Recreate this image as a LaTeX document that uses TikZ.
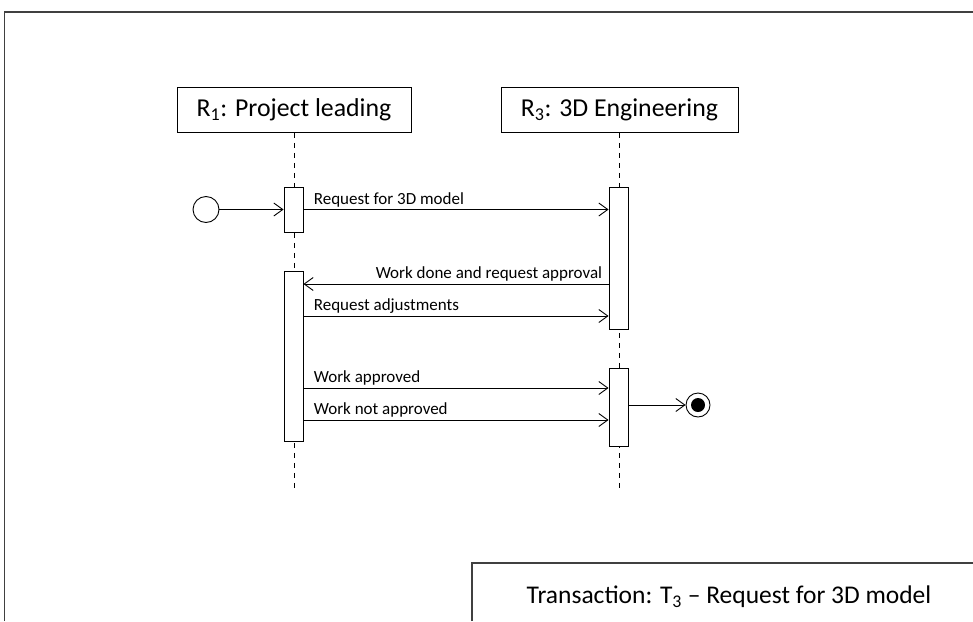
\documentclass[tikz,border=0pt]{standalone}
\usepackage{fontspec}
\setmainfont{Carlito}
\usetikzlibrary{arrows.meta}
\begin{document}
\begin{tikzpicture}[x=1pt,y=-1pt,
  frame/.style={draw=black!75, line width=1.4pt},
  lifebox/.style={draw, line width=0.9pt, minimum height=45pt, inner sep=0pt, font=\fontsize{25.8}{28}\selectfont},
  lifeline/.style={draw, line width=0.9pt, dash pattern=on 5pt off 5pt},
  act/.style={draw, fill=white, line width=0.9pt, minimum width=19pt, inner sep=0pt},
  msg/.style={draw, line width=0.9pt, -{Straight Barb[length=9pt,width=13pt,line width=0.9pt]}},
  lbl/.style={font=\fontsize{17}{19}\selectfont, inner sep=2pt},
]
\useasboundingbox (0,0) rectangle (973,621);

% outer frame and transaction caption box
\draw[frame] (4.5,621) -- (4.5,12) -- (973,12);
\draw[frame] (472,621) -- (472,563) -- (973,563);
\node[font=\fontsize{25.5}{28}\selectfont] (caption) at (729,597) {Transaction: T\textsubscript{3} – Request for 3D model};

% lifeline heads
\node[lifebox, minimum width=234pt] (r1) at (294,110) {R\textsubscript{1}: Project leading};
\node[lifebox, minimum width=237pt] (r3) at (619.5,110) {R\textsubscript{3}: 3D Engineering};

% lifelines
\coordinate (r1end) at (294,490);
\coordinate (r3end) at (619,490);
\draw[lifeline] (r1.south) -- (r1end);
\draw[lifeline] (r3.south -| r3end) -- (r3end);

% activation bars
\node[act, minimum height=45pt] (a1) at (293.5,209.5) {};
\node[act, minimum height=170pt] (a2) at (293.5,356) {};
\node[act, minimum height=142pt] (a3) at (618.5,258) {};
\node[act, minimum height=78pt] (a4) at (618.5,407) {};

% initial and final states
\node[circle, draw, line width=0.9pt, minimum size=26pt, inner sep=0pt] (start) at (206,209.5) {};
\node[circle, draw, line width=0.9pt, minimum size=24pt, inner sep=0pt] (stop) at (698,405) {};
\fill (stop.center) circle (7pt);

% messages
\draw[msg] (start) -- (a1.west);
\draw[msg] (a1.east) -- (a1.east -| a3.west)
  node[lbl, pos=0, anchor=south west, xshift=8pt] {Request for 3D model};
\draw[msg] (a3.west |- 0,284) -- (a2.east |- 0,284)
  node[lbl, pos=0, anchor=south east, xshift=-4pt] {Work done and request approval};
\draw[msg] (a2.east |- 0,316) -- (a3.west |- 0,316)
  node[lbl, pos=0, anchor=south west, xshift=8pt] {Request adjustments};
\draw[msg] (a2.east |- 0,388) -- (a4.west |- 0,388)
  node[lbl, pos=0, anchor=south west, xshift=8pt] {Work approved};
\draw[msg] (a2.east |- 0,420) -- (a4.west |- 0,420)
  node[lbl, pos=0, anchor=south west, xshift=8pt] {Work not approved};
\draw[msg] (a4.east |- stop) -- (stop);
\end{tikzpicture}
\end{document}
